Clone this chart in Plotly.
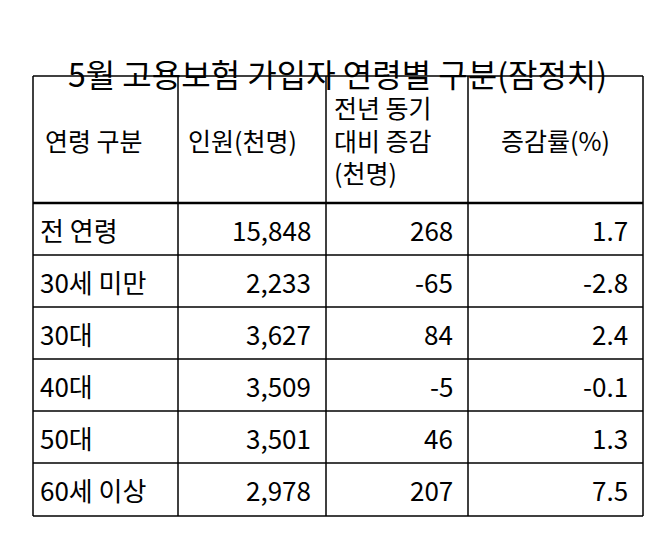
import plotly.graph_objects as go

title = "5월 고용보험 가입자 연령별 구분(잠정치)"
headers = ["연령 구분", "인원(천명)", "전년 동기<br>대비 증감<br>(천명)", "증감률(%)"]
ages = ["전 연령", "30세 미만", "30대", "40대", "50대", "60세 이상"]
people = ["15,848", "2,233", "3,627", "3,509", "3,501", "2,978"]
yoy_change = ["268", "-65", "84", "-5", "46", "207"]
rate = ["1.7", "-2.8", "2.4", "-0.1", "1.3", "7.5"]

FONT = "Noto Sans CJK KR"
W, H = 658, 536
col_x = [25, 170, 318, 460, 635]
row_y = [68, 195, 247, 299, 351, 403, 455, 508]


def px(x):
    return x / W


def py(y):
    return 1 - y / H


fig = go.Figure()
shapes = []
for x in col_x:
    shapes.append(dict(type="line", xref="paper", yref="paper", x0=px(x), x1=px(x),
                       y0=py(row_y[0]), y1=py(row_y[-1]), line=dict(color="black", width=1.5)))
for i, y in enumerate(row_y):
    shapes.append(dict(type="line", xref="paper", yref="paper", x0=px(col_x[0]), x1=px(col_x[-1]),
                       y0=py(y), y1=py(y), line=dict(color="black", width=2.5 if i == 1 else 1.5)))

ann = []
ann.append(dict(text=title, x=px(W / 2), y=py(40), showarrow=False, xref="paper", yref="paper",
                font=dict(family=FONT, size=32, color="black")))
hy = (row_y[0] + row_y[1]) / 2
hdr_pos = [(col_x[0] + 10, "left"), (col_x[1] + 8, "left"), (col_x[2] + 6, "left"),
           ((col_x[3] + col_x[4]) / 2, "center")]
for t, (x, a) in zip(headers, hdr_pos):
    ann.append(dict(text=t, x=px(x), y=py(hy), xanchor=a, yanchor="middle", align="left",
                    showarrow=False, xref="paper", yref="paper",
                    font=dict(family=FONT, size=25, color="black")))
for r in range(len(ages)):
    cy = py((row_y[r + 1] + row_y[r + 2]) / 2)
    vals = [ages[r], people[r], yoy_change[r], rate[r]]
    for c, v in enumerate(vals):
        if c == 0:
            x, a = col_x[0] + 5, "left"
        else:
            x, a = col_x[c + 1] - 13, "right"
        ann.append(dict(text=v, x=px(x), y=cy, xanchor=a, yanchor="middle", showarrow=False,
                        xref="paper", yref="paper", font=dict(family=FONT, size=26, color="black")))

fig.update_layout(
    width=W, height=H,
    margin=dict(l=0, r=0, t=0, b=0),
    paper_bgcolor="white", plot_bgcolor="white",
    xaxis=dict(visible=False), yaxis=dict(visible=False),
    shapes=shapes, annotations=ann,
)

fig.write_html("out.html")
